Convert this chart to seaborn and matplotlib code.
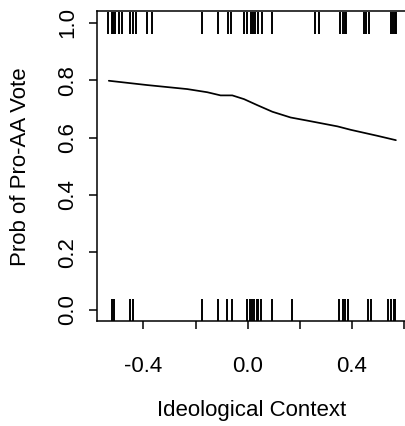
import matplotlib
matplotlib.use("Agg")
import matplotlib.pyplot as plt
import seaborn as sns
import pandas as pd

# Predicted probability curve
curve_x = [-0.533, -0.386, -0.232, -0.155, -0.104, -0.059, -0.014, 0.037,
           0.095, 0.165, 0.230, 0.345, 0.396, 0.499, 0.569]
curve_y = [0.798, 0.783, 0.769, 0.758, 0.747, 0.747, 0.734, 0.713,
           0.690, 0.670, 0.659, 0.639, 0.627, 0.606, 0.591]

# Observed votes: pro (1) and against (0)
rug_pro_x = [-0.535, -0.522, -0.516, -0.511, -0.495, -0.483, -0.452, -0.440,
             -0.428, -0.388, -0.369, -0.177, -0.115, -0.077, -0.065, -0.013,
             -0.002, 0.012, 0.020, 0.028, 0.038, 0.054, 0.092, 0.260, 0.274,
             0.356, 0.365, 0.372, 0.379, 0.446, 0.456, 0.466, 0.550, 0.558,
             0.564, 0.569]
rug_con_x = [-0.522, -0.515, -0.450, -0.440, -0.174, -0.113, -0.078, -0.061,
             -0.001, 0.009, 0.017, 0.025, 0.034, 0.040, 0.052, 0.092, 0.169,
             0.352, 0.367, 0.375, 0.385, 0.461, 0.473, 0.540, 0.550, 0.560,
             0.566]

x_ticks = [-0.4, -0.2, 0.0, 0.2, 0.4, 0.6]
x_tick_labels = ["-0.4", "", "0.0", "", "0.4", ""]
y_ticks = [0.0, 0.2, 0.4, 0.6, 0.8, 1.0]
y_tick_labels = ["0.0", "0.2", "0.4", "0.6", "0.8", "1.0"]

x_label = "Ideological Context"
y_label = "Prob of Pro-AA Vote"

sns.set_style("white")
plt.rcParams["font.family"] = ["Liberation Sans", "DejaVu Sans"]
plt.rcParams["text.color"] = "black"
plt.rcParams["axes.labelcolor"] = "black"
plt.rcParams["xtick.color"] = "black"
plt.rcParams["ytick.color"] = "black"

LW = 1.1
FS = 16

fig = plt.figure(figsize=(4.06, 4.26), dpi=100)
ax = fig.add_axes([0.2384, 0.2458, 0.765, 0.7277])

curve = pd.DataFrame({"x": curve_x, "y": curve_y})
votes = pd.DataFrame({
    "x": rug_pro_x + rug_con_x,
    "y": [1.0] * len(rug_pro_x) + [0.0] * len(rug_con_x),
})

sns.scatterplot(data=votes, x="x", y="y", marker="|", s=16.3 ** 2,
                color="black", linewidth=1.4, ax=ax, legend=False)
sns.lineplot(data=curve, x="x", y="y", color="black", linewidth=1.25,
             ax=ax, legend=False)

all_x = rug_pro_x + rug_con_x + curve_x
lo, hi = min(all_x), max(all_x)
pad = 0.04 * (hi - lo)
ax.set_xlim(lo - pad, hi + pad)
ax.set_ylim(-0.04, 1.04)

ax.set_xticks(x_ticks)
ax.set_xticklabels(x_tick_labels, fontsize=FS)
ax.set_yticks(y_ticks)
ax.set_yticklabels(y_tick_labels, fontsize=FS, rotation=90, va="center")

ax.tick_params(axis="x", direction="out", length=5.8, width=LW, pad=19.2,
               color="black", labelcolor="black", bottom=True)
ax.tick_params(axis="y", direction="out", length=5.8, width=LW, pad=7.9,
               color="black", labelcolor="black", left=True)

ax.set_xlabel(x_label, fontsize=FS, labelpad=16.3, color="black")
ax.set_ylabel(y_label, fontsize=FS, labelpad=18.3, color="black")

for sp in ax.spines.values():
    sp.set_visible(True)
    sp.set_color("black")
    sp.set_linewidth(LW)

fig.savefig("out.png", dpi=100)
